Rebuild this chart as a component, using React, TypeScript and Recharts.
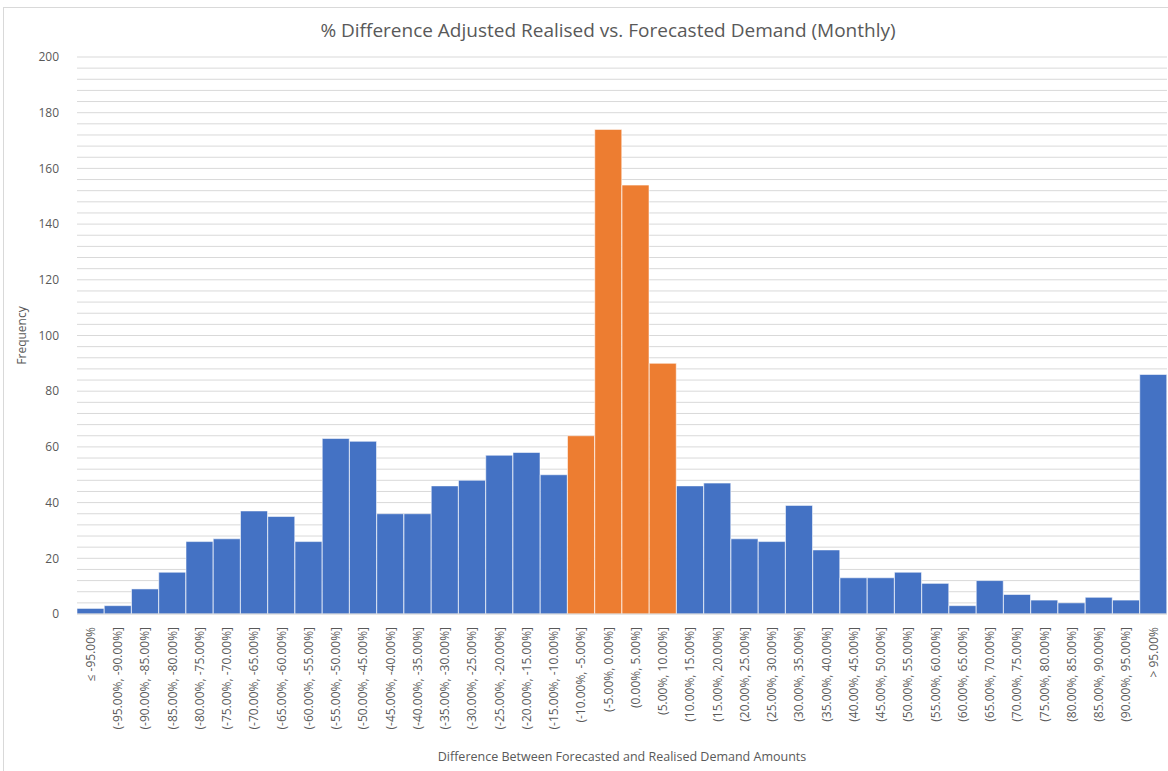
import { BarChart, Bar, XAxis, YAxis, CartesianGrid, Cell } from "recharts";

// histogram bins, lowest to highest
const bins = [
  "≤ -95.00%",
  "(-95.00%, -90.00%]",
  "(-90.00%, -85.00%]",
  "(-85.00%, -80.00%]",
  "(-80.00%, -75.00%]",
  "(-75.00%, -70.00%]",
  "(-70.00%, -65.00%]",
  "(-65.00%, -60.00%]",
  "(-60.00%, -55.00%]",
  "(-55.00%, -50.00%]",
  "(-50.00%, -45.00%]",
  "(-45.00%, -40.00%]",
  "(-40.00%, -35.00%]",
  "(-35.00%, -30.00%]",
  "(-30.00%, -25.00%]",
  "(-25.00%, -20.00%]",
  "(-20.00%, -15.00%]",
  "(-15.00%, -10.00%]",
  "(-10.00%, -5.00%]",
  "(-5.00%, 0.00%]",
  "(0.00%, 5.00%]",
  "(5.00%, 10.00%]",
  "(10.00%, 15.00%]",
  "(15.00%, 20.00%]",
  "(20.00%, 25.00%]",
  "(25.00%, 30.00%]",
  "(30.00%, 35.00%]",
  "(35.00%, 40.00%]",
  "(40.00%, 45.00%]",
  "(45.00%, 50.00%]",
  "(50.00%, 55.00%]",
  "(55.00%, 60.00%]",
  "(60.00%, 65.00%]",
  "(65.00%, 70.00%]",
  "(70.00%, 75.00%]",
  "(75.00%, 80.00%]",
  "(80.00%, 85.00%]",
  "(85.00%, 90.00%]",
  "(90.00%, 95.00%]",
  "> 95.00%",
];

const frequency = [
  2, 3, 9, 15, 26, 27, 37, 35, 26, 63, 62, 36, 36, 46, 48, 57, 58, 50,
  64, 174, 154, 90,
  46, 47, 27, 26, 39, 23, 13, 13, 15, 11, 3, 12, 7, 5, 4, 6, 5, 86,
];

// the +/-10% band is shown in orange
const withinTenPercent = [
  "(-10.00%, -5.00%]",
  "(-5.00%, 0.00%]",
  "(0.00%, 5.00%]",
  "(5.00%, 10.00%]",
];

const yTicks = [0, 20, 40, 60, 80, 100, 120, 140, 160, 180, 200];
const gridLines = Array.from({ length: 51 }, (_, i) => i * 4);

const data = bins.map((bin, i) => ({ bin, count: frequency[i] }));

const FONT = "'Open Sans', sans-serif";
const TEXT = "#595959";
const BLUE = "#4472C4";
const ORANGE = "#ED7D31";

const BinTick = ({ x, y, payload }: any) => (
  <text
    transform={`translate(${x},${y + 5}) rotate(-90)`}
    textAnchor="end"
    dy="0.35em"
    fill={TEXT}
    fontSize={12}
    fontFamily={FONT}
  >
    {payload.value}
  </text>
);

const YTitle = ({ viewBox }: any) => (
  <text
    transform={`translate(22,${viewBox.y + viewBox.height / 2}) rotate(-90)`}
    textAnchor="middle"
    dy="0.35em"
    fill={TEXT}
    fontSize={12}
    fontFamily={FONT}
  >
    Frequency
  </text>
);

export default function App() {
  return (
    <div
      style={{
        position: "absolute",
        left: 0,
        top: 0,
        width: 1168,
        height: 771,
        background: "#fff",
        overflow: "hidden",
        fontFamily: FONT,
      }}
    >
      <div
        style={{
          position: "absolute",
          left: 3,
          top: 7,
          width: 1200,
          height: 800,
          border: "1px solid #d9d9d9",
        }}
      />
      <div
        style={{
          position: "absolute",
          left: 0,
          top: 18,
          width: 1216,
          textAlign: "center",
          fontSize: 19,
          lineHeight: "24px",
          color: TEXT,
        }}
      >
        % Difference Adjusted Realised vs. Forecasted Demand (Monthly)
      </div>
      <div style={{ position: "absolute", left: 0, top: 0 }}>
        <BarChart
          width={1168}
          height={771}
          data={data}
          margin={{ top: 57, right: 1, bottom: 0, left: 0 }}
          barCategoryGap={0}
        >
          <CartesianGrid
            vertical={false}
            stroke="#d9d9d9"
            horizontalValues={gridLines}
          />
          <XAxis
            dataKey="bin"
            interval={0}
            height={157}
            tick={<BinTick />}
            tickLine={false}
            axisLine={{ stroke: "#d9d9d9" }}
            label={{
              value: "Difference Between Forecasted and Realised Demand Amounts",
              position: "insideBottom",
              offset: 10,
              fill: TEXT,
              fontSize: 12.5,
              fontFamily: FONT,
            }}
          />
          <YAxis
            width={77}
            domain={[0, 200]}
            ticks={yTicks}
            interval={0}
            tickLine={false}
            axisLine={false}
            tick={{ fill: TEXT, fontSize: 12, fontFamily: FONT, dx: -10 }}
            label={<YTitle />}
          />
          <Bar
            dataKey="count"
            isAnimationActive={false}
            stroke="#ffffff"
            strokeOpacity={0.55}
            strokeWidth={1}
          >
            {data.map((d) => (
              <Cell
                key={d.bin}
                fill={withinTenPercent.includes(d.bin) ? ORANGE : BLUE}
              />
            ))}
          </Bar>
        </BarChart>
      </div>
    </div>
  );
}
